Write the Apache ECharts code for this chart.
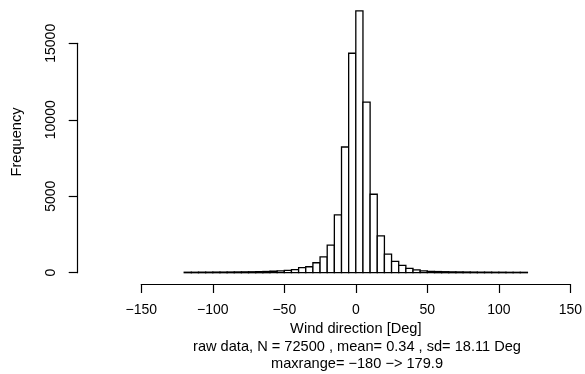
<!DOCTYPE html>
<html>
<head>
<meta charset="utf-8">
<script src="https://cdn.jsdelivr.net/npm/echarts@6/dist/echarts.min.js"></script>
<style>html,body{margin:0;padding:0;background:#fff}#c{width:585px;height:374px}</style>
</head>
<body>
<div id="c"></div>
<script>
// Histogram bin left edges (deg), bin width 5
var binStarts = [-120,-115,-110,-105,-100,-95,-90,-85,-80,-75,-70,-65,-60,-55,-50,-45,-40,-35,-30,-25,-20,-15,-10,-5,0,5,10,15,20,25,30,35,40,45,50,55,60,65,70,75,80,85,90,95,100,105,110,115];
var binWidth = 5;
var counts = [30,30,35,35,40,40,45,50,55,60,70,80,95,120,150,200,330,390,650,1040,1800,3780,8220,14350,17120,11150,5130,2410,1210,740,480,280,180,120,90,75,65,55,50,45,40,35,35,30,30,25,25,25];
var xTicks = [-150,-100,-50,0,50,100,150];
var yTicks = [0,5000,10000,15000];
var xTitle = 'Wind direction [Deg]';
var yTitle = 'Frequency';
var subLine1 = 'raw data, N = 72500 , mean= 0.34 , sd= 18.11 Deg';
var subLine2 = 'maxrange= \u2212180 \u2212> 179.9';

var FONT = '"Liberation Sans", Arial, Helvetica, sans-serif';
var data = binStarts.map(function (s, i) { return [s, s + binWidth, counts[i]]; });

var chart = echarts.init(document.getElementById('c'), null, {renderer: 'canvas'});
chart.setOption({
  animation: false,
  backgroundColor: '#ffffff',
  grid: {left: 141.3, right: 12.3, top: 43.3, bottom: 101.3, containLabel: false},
  xAxis: {
    type: 'value', min: xTicks[0], max: xTicks[xTicks.length - 1], interval: 50,
    offset: 11.3,
    axisLine: {show: true, onZero: false, lineStyle: {color: '#000', width: 1.2}},
    axisTick: {show: true, length: 9, lineStyle: {color: '#000', width: 1.2}},
    axisLabel: {
      margin: 19, fontSize: 14, color: '#000', fontFamily: FONT,
      formatter: function (v) { return v < 0 ? '\u2212' + Math.abs(v) : String(v); }
    },
    splitLine: {show: false},
    name: xTitle, nameLocation: 'middle', nameGap: 37,
    nameTextStyle: {fontSize: 14.6, color: '#000', fontFamily: FONT}
  },
  yAxis: {
    type: 'value', min: yTicks[0], max: yTicks[yTicks.length - 1], interval: 5000,
    offset: 63.6,
    axisLine: {show: true, onZero: false, lineStyle: {color: '#000', width: 1.2}},
    axisTick: {show: true, length: 9, lineStyle: {color: '#000', width: 1.2}},
    axisLabel: {margin: 20, fontSize: 14, color: '#000', fontFamily: FONT, rotate: 90,
      formatter: function (v) { return String(v); }},
    splitLine: {show: false}
  },
  graphic: [
    {type: 'text', rotation: Math.PI / 2, x: 17, y: 142,
     style: {text: yTitle, fill: '#000', font: '14.6px ' + FONT, textAlign: 'center', textVerticalAlign: 'middle'}},
    {type: 'text', x: 357, y: 347,
     style: {text: subLine1, fill: '#000', font: '14.6px ' + FONT, textAlign: 'center', textVerticalAlign: 'middle'}},
    {type: 'text', x: 357, y: 364,
     style: {text: subLine2, fill: '#000', font: '14.6px ' + FONT, textAlign: 'center', textVerticalAlign: 'middle'}}
  ],
  series: [{
    type: 'custom',
    clip: false,
    data: data,
    encode: {x: [0, 1], y: 2},
    renderItem: function (params, api) {
      var p0 = api.coord([api.value(0), api.value(2)]);
      var p1 = api.coord([api.value(1), 0]);
      return {
        type: 'rect',
        shape: {x: p0[0], y: p0[1], width: p1[0] - p0[0], height: p1[1] - p0[1]},
        style: {fill: '#fff', stroke: '#000', lineWidth: 1.3}
      };
    }
  }]
});
</script>
</body>
</html>
